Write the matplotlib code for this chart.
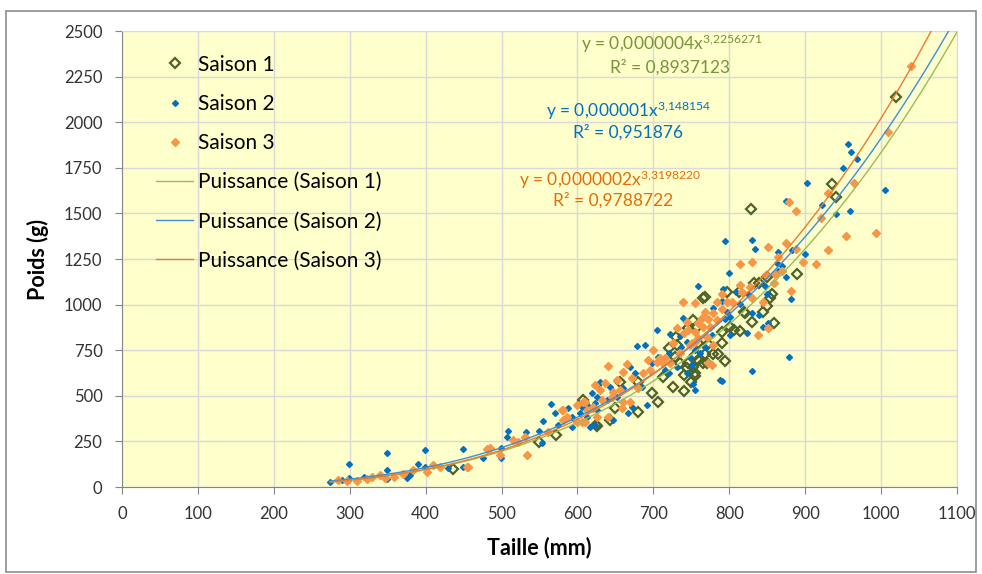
import numpy as np
import matplotlib
matplotlib.use("Agg")
import matplotlib.pyplot as plt
from matplotlib.patches import Rectangle

plt.rcParams['font.family'] = ['Lato', 'DejaVu Sans']
plt.rcParams['mathtext.fontset'] = 'custom'
plt.rcParams['mathtext.rm'] = 'Lato'
plt.rcParams['mathtext.it'] = 'Lato'

# Saison 1 (taille mm, poids g)
s1_x = [935, 941, 829, 889, 833, 839, 850, 856, 854, 850, 844, 819, 830, 859, 814,
        1020,
        813, 797, 765, 752, 757, 801, 790, 806, 759, 772, 790, 755, 768, 779, 785,
        765, 794, 752, 755,
        720, 728, 735, 740, 744, 749, 726, 740, 698, 706, 680, 656, 650, 680, 607,
        626, 643, 713,
        436, 549, 572, 624, 768, 821, 730, 745,
        731, 746, 755, 759, 770]
s1_y = [1661, 1590, 1524, 1168, 1118, 1118, 1151, 1058, 1036, 992, 959, 959, 905, 899, 855,
        2138,
        1069, 1069, 1036, 916, 877, 877, 850, 861, 789, 784, 789, 724, 729, 729, 729,
        680, 691, 658, 609,
        762, 713, 680, 614, 652, 576, 548, 526, 515, 466, 576, 576, 433, 411, 477,
        334, 367, 603,
        99, 247, 285, 340, 1041, 954, 820, 870,
        778, 678, 623, 696, 678]

# Saison 2
s2_x = [960, 968, 950, 902, 875, 1005, 922, 941, 959, 830, 834, 864, 883, 900, 863,
        869, 864, 875, 847, 825, 850, 881, 814, 830, 839, 851, 844, 823, 879, 830,
        956,
        794, 800, 759, 792, 809, 790, 779, 797, 801, 794, 777, 801, 768, 751, 752, 790,
        705, 679, 689, 722, 735, 720, 706, 669, 676, 685, 692, 619, 623, 639, 652,
        667, 613, 647, 603, 626, 660, 731, 744, 755, 715, 617, 672,
        449, 476, 499, 508, 507, 532, 549, 555, 565, 571, 575, 588, 593, 606, 612,
        626, 627, 553, 623, 430, 449,
        274, 290, 299, 299, 319, 349, 349, 349, 375, 379, 390, 399, 399, 499,
        739, 788, 593,
        698, 711, 720, 737, 748, 755, 761, 768, 744, 630, 643]
s2_y = [1837, 1798, 1749, 1667, 1568, 1628, 1546, 1497, 1513, 1354, 1305, 1288, 1299, 1277, 1228,
        1212, 1184, 1151, 1102, 1058, 1058, 1031, 1003, 954, 943, 899, 877, 844, 713, 636,
        1880,
        1349, 1173, 1102, 1086, 1069, 1020, 981, 959, 932, 921, 833, 833, 768, 669, 565, 581,
        861, 773, 778, 839, 828, 735, 713, 658, 625, 548, 450, 515, 461, 477, 493,
        406, 384, 367, 406, 422, 543, 658, 625, 532, 642, 329, 439,
        208, 159, 159, 307, 274, 302, 307, 362, 455, 406, 340, 433, 329, 439, 450,
        493, 559, 241, 340, 104, 110,
        27, 38, 126, 49, 55, 186, 93, 44, 49, 66, 126, 203, 110, 214,
        927, 587, 384,
        678, 678, 623, 769, 714, 751, 733, 769, 797, 577, 550]

# Saison 3
s3_x = [1039, 1009,
        879, 888, 921, 930, 964, 954, 993, 930, 914, 897, 888, 875, 864, 851, 830,
        814, 869, 860, 859, 881, 848, 827, 830, 844, 851, 838, 817,
        814, 784, 797, 803, 755, 768, 779, 790, 764, 772, 784, 765, 775, 755, 759,
        771, 751, 779, 772, 777,
        640, 665, 660, 636, 630, 647, 646, 669, 632, 610, 621, 640, 659, 672, 687,
        696, 705, 713, 700, 731, 744, 726, 652, 680, 606, 626, 660,
        481, 485, 498, 515, 522, 534, 561, 581, 581, 599, 599, 607, 610, 620, 454, 531,
        285, 296, 309, 323, 329, 340, 346, 358, 370, 383, 402, 410, 419, 456,
        739, 580, 586, 790,
        693, 709, 715, 722, 735, 748, 755, 740, 746, 759, 612, 623, 656]
s3_y = [2308, 1946,
        1562, 1513, 1475, 1612, 1667, 1376, 1393, 1300, 1223, 1234, 1305, 1338, 1261, 1316, 1234,
        1223, 1184, 1168, 1118, 1075, 1162, 1096, 1036, 1014, 872, 833, 1069,
        1107, 1014, 1014, 1014, 1009, 959, 954, 976, 927, 921, 916, 877, 877, 850, 817,
        822, 789, 778, 680, 669,
        663, 674, 630, 570, 532, 521, 493, 466, 477, 466, 433, 384, 433, 598, 625,
        642, 685, 680, 751, 872, 905, 789, 587, 543, 356, 384, 466,
        208, 214, 175, 258, 247, 175, 302, 422, 367, 450, 356, 466, 356, 439, 110, 274,
        38, 33, 33, 44, 55, 66, 49, 55, 71, 93, 82, 121, 110, 110,
        1014, 422, 384, 1060,
        696, 705, 705, 678, 733, 778, 797, 842, 861, 897, 422, 559, 532]

# courbes de tendance (puissance) y = a * x^b
trend_a = [3.86e-7, 6.87e-7, 2.22e-7]
trend_b = [3.2256271, 3.148154, 3.3198220]

labels = ['Saison 1', 'Saison 2', 'Saison 3']
trend_labels = ['Puissance (Saison 1)', 'Puissance (Saison 2)', 'Puissance (Saison 3)']
eq_texts = [r'y = 0,0000004x$^{3{,}2256271}$', r'y = 0,000001x$^{3{,}148154}$',
            r'y = 0,0000002x$^{3{,}3198220}$']
r2_texts = ['R² = 0,8937123', 'R² = 0,951876', 'R² = 0,9788722']

fig = plt.figure(figsize=(9.82, 5.74), dpi=100)
ax = fig.add_axes([122 / 982, 1 - 487 / 574, 835 / 982, 456 / 574])
ax.set_facecolor('#FFFFCC')

ax.plot(s1_x, s1_y, linestyle='none', marker='D', markersize=5, markerfacecolor='none',
        markeredgecolor='#4F6228', markeredgewidth=1.6, label=labels[0], zorder=3)
ax.plot(s2_x, s2_y, linestyle='none', marker='D', markersize=3, color='#0070C0',
        label=labels[1], zorder=4)
ax.plot(s3_x, s3_y, linestyle='none', marker='D', markersize=4.2, color='#F79646',
        label=labels[2], zorder=5)

trend_colors = ['#9BBB59', '#3C8FD6', '#F07A2A']
xmin = min(s1_x + s2_x + s3_x)
xs = np.linspace(xmin, 1100, 400)
for a, b, c, lab in zip(trend_a, trend_b, trend_colors, trend_labels):
    ax.plot(xs, a * xs ** b, color=c, linewidth=1.0, label=lab, zorder=6)

ax.set_xlim(0, 1100)
ax.set_ylim(0, 2500)
ax.set_xticks(np.arange(0, 1101, 100))
ax.set_yticks(np.arange(0, 2501, 250))
ax.grid(True, color='#D9D9D9', linewidth=1.0, zorder=0)
ax.set_axisbelow(True)
for side in ['top', 'right']:
    ax.spines[side].set_color('#D9D9D9')
for side in ['left', 'bottom']:
    ax.spines[side].set_color('#868686')
ax.tick_params(axis='both', direction='out', length=5, color='#868686', labelsize=12,
               labelcolor='#333333')
ax.tick_params(axis='x', pad=9)
ax.tick_params(axis='y', pad=9)

ax.set_xlabel('Taille (mm)', fontsize=15.5, fontweight='bold', labelpad=10)
ax.set_ylabel('Poids (g)', fontsize=15.5, fontweight='bold', labelpad=11)

leg = ax.legend(loc='upper left', bbox_to_anchor=(0.0407, 0.948), frameon=False,
                fontsize=15, labelspacing=0.92, handlelength=1.8, handletextpad=0.2,
                borderpad=0, borderaxespad=0)

eq_pos = [(672, 44, 670, 67), (628, 111, 628, 132), (610, 180, 613, 200)]
eq_colors = ['#77933C', '#0070C0', '#E46C0A']
for (x1, y1, x2, y2), t1, t2, c in zip(eq_pos, eq_texts, r2_texts, eq_colors):
    fig.text(x1 / 982, 1 - y1 / 574, t1, color=c, fontsize=12.5, ha='center', va='center')
    fig.text(x2 / 982, 1 - y2 / 574, t2, color=c, fontsize=12.5, ha='center', va='center')

fig.patches.append(Rectangle((6 / 982, 2 / 574), 970 / 982, 561 / 574, transform=fig.transFigure,
                             fill=False, edgecolor='#8C8C8C', linewidth=1.2))

fig.savefig('out.png', dpi=100)
